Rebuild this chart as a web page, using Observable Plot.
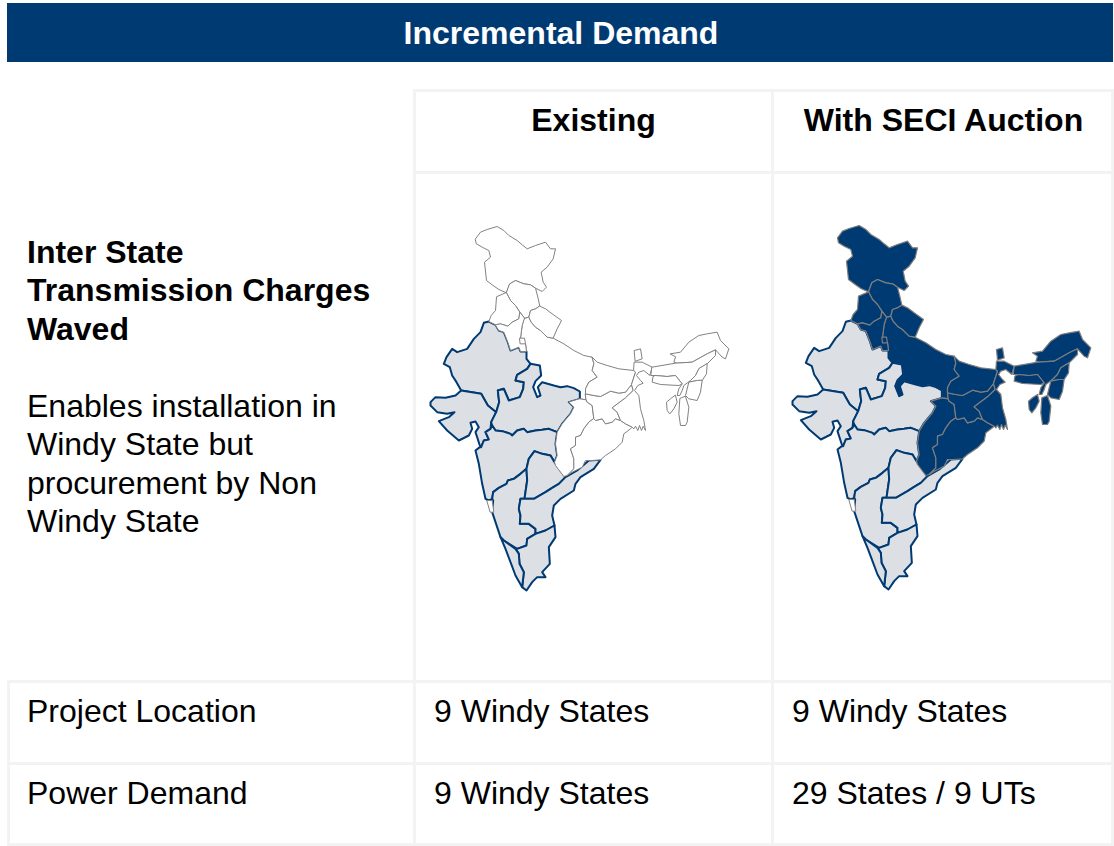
<!DOCTYPE html>
<html><head><meta charset="utf-8">
<script src="https://cdn.jsdelivr.net/npm/d3@7"></script>
<script src="https://cdn.jsdelivr.net/npm/@observablehq/plot@0.6"></script>
<style>
html,body{margin:0;background:#fff;width:1114px;height:846px;overflow:hidden;font-family:"Liberation Sans",Arial,sans-serif;color:#000}
#page{position:relative;width:1114px;height:846px}
.abs{position:absolute;box-sizing:border-box}
.hdr{left:8px;top:4px;width:1106px;height:59px;background:none;color:#fff;font-weight:700;font-size:32px;line-height:59px;text-align:center}
.band{left:7px;top:3px;width:1106px;height:59px;background:#003a73}
.vl{width:3px;background:#f3f3f3}.hl{height:3px;background:#f3f3f3}
.th{font-weight:700;font-size:32px;line-height:36px;text-align:center}
.td{font-size:32px;line-height:36px;white-space:nowrap}
.lead{left:27px;font-size:32px;line-height:38.4px;white-space:nowrap}
svg{display:block}
</style></head><body>
<div id="page">
 <div class="abs band"></div>
 <div class="abs hdr">Incremental Demand</div>
 <div class="abs hl" style="left:414px;top:89px;width:699px"></div>
 <div class="abs hl" style="left:414px;top:171px;width:699px"></div>
 <div class="abs hl" style="left:7px;top:680px;width:1106px"></div>
 <div class="abs hl" style="left:7px;top:762px;width:1106px"></div>
 <div class="abs hl" style="left:7px;top:843px;width:1106px"></div>
 <div class="abs vl" style="left:7px;top:680px;height:166px"></div>
 <div class="abs vl" style="left:413px;top:89px;height:757px"></div>
 <div class="abs vl" style="left:771px;top:89px;height:757px"></div>
 <div class="abs vl" style="left:1111px;top:89px;height:757px"></div>
 <div class="abs th" style="left:416px;width:355px;top:102px">Existing</div>
 <div class="abs th" style="left:775px;width:337px;top:102px">With SECI Auction</div>
 <div class="abs lead" style="top:233px"><b>Inter State<br>Transmission Charges<br>Waved</b></div>
 <div class="abs lead" style="top:387px">Enables installation in<br>Windy State but<br>procurement by Non<br>Windy State</div>
 <div class="abs td" style="left:27px;top:693px">Project Location</div>
 <div class="abs td" style="left:434px;top:693px">9 Windy States</div>
 <div class="abs td" style="left:792px;top:693px">9 Windy States</div>
 <div class="abs td" style="left:27px;top:775px">Power Demand</div>
 <div class="abs td" style="left:434px;top:775px">9 Windy States</div>
 <div class="abs td" style="left:792px;top:775px">29 States / 9 UTs</div>
 <div class="abs" id="mapA" style="left:416px;top:174px"></div>
 <div class="abs" id="mapB" style="left:774px;top:174px"></div>
</div>
<script>
// State outlines (one map unit = a third of a pixel).
const jammuKashmir=[[165,70],[180,50],[200,42],[230,33],[250,45],[265,60],[290,75],[305,88],[320,100],[345,90],[375,80],[390,100],[405,100],[398,130],[380,155],[362,170],[368,200],[378,215],[365,228],[345,218],[330,208],[310,205],[285,195],[268,205],[258,232],[235,222],[215,208],[198,195],[192,140],[210,125],[205,105],[185,95],[168,85]];
const himachal=[[268,205],[285,195],[310,205],[330,208],[345,218],[352,245],[358,272],[345,280],[330,285],[325,305],[312,308],[298,290],[285,270],[270,255],[258,232]];
const punjab=[[258,232],[270,255],[285,270],[298,290],[295,310],[275,320],[262,332],[240,325],[225,328],[205,318],[212,300],[225,285],[228,245]];
const uttarakhand=[[358,272],[375,280],[395,295],[423,315],[410,340],[398,368],[380,365],[360,345],[345,335],[332,320],[325,305],[330,285],[345,280]];
const haryana=[[225,328],[240,325],[262,332],[275,320],[295,310],[298,290],[312,308],[305,330],[300,368],[315,385],[318,408],[300,408],[295,395],[270,405],[262,380],[250,350],[235,345]];
const delhi=[[298,368],[312,368],[315,385],[300,385]];
const uttarPradesh=[[312,308],[325,305],[332,320],[345,335],[360,345],[380,365],[398,368],[430,385],[460,405],[490,420],[515,425],[520,445],[515,465],[530,485],[505,500],[495,520],[495,535],[497,553],[478,550],[478,528],[460,518],[440,512],[420,515],[400,510],[365,500],[352,515],[360,540],[350,545],[338,515],[345,497],[362,480],[358,450],[330,445],[318,430],[318,408],[315,385],[300,368],[305,330]];
const rajasthan=[[205,318],[225,328],[235,345],[250,350],[262,380],[270,405],[295,395],[300,408],[318,408],[318,430],[330,445],[320,460],[290,478],[285,495],[310,500],[308,520],[298,545],[265,555],[250,520],[232,525],[236,560],[227,590],[202,570],[182,535],[122,525],[108,500],[95,480],[88,455],[70,445],[78,425],[95,400],[110,410],[140,400],[160,370],[180,350],[190,322]];
const gujarat=[[122,525],[182,535],[202,570],[227,590],[212,620],[210,640],[195,650],[205,672],[190,675],[182,695],[178,690],[165,650],[175,635],[165,618],[150,622],[155,640],[145,660],[115,675],[80,645],[55,617],[85,605],[102,590],[80,595],[50,590],[30,570],[30,560],[45,545],[75,547],[105,540]];
const madhyaPradesh=[[227,590],[236,560],[232,525],[250,520],[265,555],[298,545],[308,520],[310,500],[285,495],[290,478],[320,460],[330,445],[358,450],[362,480],[345,497],[338,515],[350,545],[360,540],[352,515],[365,500],[400,510],[420,515],[440,512],[460,518],[478,528],[478,550],[445,560],[460,575],[450,595],[425,625],[410,650],[385,640],[365,643],[345,645],[320,650],[310,640],[290,645],[275,660],[270,655],[245,647],[225,645],[215,630],[212,620]];
const maharashtra=[[215,630],[225,645],[245,647],[270,655],[275,660],[290,645],[310,640],[320,650],[345,645],[365,643],[385,640],[410,650],[405,685],[410,720],[402,740],[390,720],[365,715],[342,707],[325,730],[318,760],[300,775],[280,790],[262,795],[258,805],[235,817],[218,830],[215,850],[205,855],[195,850],[185,805],[175,745],[165,705],[178,695],[182,695],[190,675],[205,672],[195,650],[210,640]];
const chhattisgarh=[[478,550],[497,553],[500,560],[515,570],[520,610],[505,620],[490,640],[480,660],[465,665],[465,690],[450,700],[460,730],[460,760],[440,780],[430,783],[405,750],[402,740],[410,720],[405,685],[410,650],[425,625],[450,595],[460,575],[445,560]];
const odisha=[[520,610],[525,615],[545,610],[555,625],[575,620],[585,610],[600,615],[615,625],[635,635],[630,640],[610,655],[605,680],[585,700],[555,720],[540,733],[515,735],[495,735],[485,755],[455,770],[440,780],[460,760],[460,730],[450,700],[465,690],[465,665],[480,660],[490,640],[505,620]];
const jharkhand=[[495,535],[520,540],[540,543],[570,527],[595,533],[615,530],[633,507],[638,525],[615,547],[575,577],[590,590],[600,615],[585,610],[575,620],[555,625],[545,610],[525,615],[520,610],[515,570],[500,560],[497,553]];
const bihar=[[515,425],[530,440],[560,450],[595,460],[640,465],[645,470],[633,507],[615,530],[595,533],[570,527],[540,543],[520,540],[495,535],[495,520],[505,500],[530,485],[515,465],[520,445]];
const westBengal=[[642,440],[665,440],[695,455],[688,480],[670,465],[655,470],[648,480],[660,495],[668,503],[652,510],[642,525],[655,540],[660,580],[670,615],[675,645],[668,632],[663,645],[657,630],[652,645],[645,632],[640,640],[635,635],[615,625],[600,615],[590,590],[575,577],[615,547],[638,525],[633,507],[645,470],[640,465]];
const sikkim=[[642,405],[660,400],[665,430],[645,437]];
const arunachal=[[750,415],[780,410],[805,380],[835,360],[860,355],[890,350],[900,375],[925,400],[915,430],[905,425],[885,403],[860,415],[815,440],[770,443],[760,440],[765,425]];
const assam=[[695,455],[765,443],[815,440],[860,415],[885,403],[885,420],[860,445],[835,460],[825,480],[810,495],[790,510],[785,525],[778,540],[770,540],[775,520],[785,505],[765,480],[740,483],[705,480],[692,480]];
const meghalaya=[[705,480],[740,483],[765,480],[785,505],[775,510],[720,507],[695,500],[697,485]];
const nagaland=[[860,445],[858,475],[845,495],[830,495],[805,500],[810,495],[825,480],[835,460]];
const manipur=[[845,495],[840,530],[830,555],[805,550],[795,540],[805,500],[830,495]];
const mizoram=[[795,543],[805,575],[800,620],[795,630],[780,630],[775,595],[778,550]];
const tripura=[[765,540],[770,560],[760,580],[748,595],[740,585],[738,560],[750,550]];
const goa=[[200,855],[215,855],[220,890],[210,890]];
const karnataka=[[318,760],[320,795],[312,850],[300,850],[295,880],[300,900],[298,925],[325,925],[345,940],[345,955],[320,970],[318,990],[290,1000],[250,975],[240,965],[230,935],[215,890],[218,855],[215,850],[218,830],[235,817],[258,805],[262,795],[280,790],[300,775]];
const telangana=[[342,707],[365,715],[390,720],[402,740],[435,785],[415,805],[395,817],[375,830],[340,850],[312,850],[320,795],[318,760],[325,730]];
const andhra=[[300,850],[312,850],[340,850],[375,830],[395,817],[415,805],[435,785],[470,765],[505,735],[540,733],[520,760],[480,785],[465,805],[460,825],[420,850],[400,870],[395,900],[402,930],[375,945],[345,955],[345,940],[325,925],[298,925],[300,900],[295,880]];
const tamilNadu=[[402,930],[405,965],[385,995],[388,1045],[365,1070],[375,1085],[350,1085],[335,1100],[318,1125],[305,1115],[310,1070],[297,1045],[295,1015],[285,1000],[290,1000],[318,990],[320,970],[345,955],[375,945]];
const kerala=[[240,965],[250,975],[285,1000],[295,1015],[297,1045],[310,1070],[305,1115],[285,1080],[270,1040],[255,1000]];

const under=[uttarPradesh];
const windy=[rajasthan,gujarat,madhyaPradesh,maharashtra,karnataka,telangana,andhra,tamilNadu,kerala];
const over=[jammuKashmir,himachal,punjab,uttarakhand,haryana,delhi,chhattisgarh,odisha,jharkhand,bihar,westBengal,sikkim,arunachal,assam,meghalaya,nagaland,manipur,mizoram,tripura];
const coastEnclave=[goa];

const rows=list=>list.flatMap((s,i)=>s.map(([x,y])=>({x,y,state:i})));
const NAVY="#003a73",PALE="#dce0e5",GREY="#828282";
const layer=(list,fill,stroke,strokeWidth)=>Plot.line(rows(list),{x:"x",y:"y",z:"state",curve:"linear-closed",fill,stroke,strokeWidth,strokeLinejoin:"round"});
function map(id,w,h,dx,dy,otherFill,otherStroke,otherWidth){
  const x0=(416-420)*3+dx,y0=(174-215)*3+dy;
  document.getElementById(id).append(Plot.plot({
    width:w,height:h,margin:0,x:{axis:null,domain:[x0,x0+w*3]},y:{axis:null,domain:[y0+h*3,y0]},
    marks:[
      layer(under,otherFill,otherStroke,otherWidth),
      layer(windy,PALE,NAVY,2),
      layer(over,otherFill,otherStroke,otherWidth),
      layer(coastEnclave,"#fff",GREY,1)
    ]}));
}
map("mapA",355,505,0,0,"#fff",GREY,1);
map("mapB",337,505,-12,3,NAVY,"#7d7d7d",1.2);
</script>
</body></html>
